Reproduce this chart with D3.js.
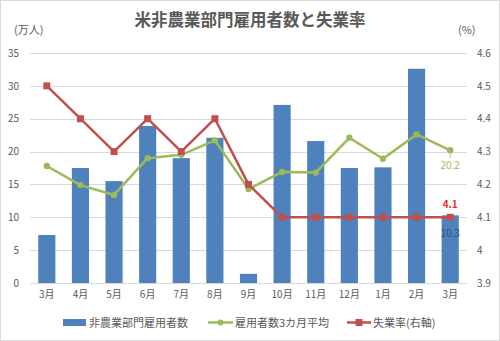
<!DOCTYPE html>
<html><head><meta charset="utf-8">
<script src="https://cdn.jsdelivr.net/npm/d3@7"></script>
<style>body{margin:0;background:#fff}svg{display:block}text{font-family:"Noto Sans CJK JP","Noto Sans",sans-serif}</style>
</head><body>
<script>
const categories = ["3月","4月","5月","6月","7月","8月","9月","10月","11月","12月","1月","2月","3月"];
const payrolls = [7.3,17.5,15.5,23.9,19.0,22.1,1.4,27.1,21.6,17.5,17.6,32.6,10.3];
const avg3m = [17.8,14.9,13.4,19.0,19.5,21.7,14.3,16.9,16.8,22.1,18.9,22.6,20.2];
const unemp = [4.5,4.4,4.3,4.4,4.3,4.4,4.2,4.1,4.1,4.1,4.1,4.1,4.1];
const leftTicks = [0,5,10,15,20,25,30,35];
const rightTicks = [3.9,4,4.1,4.2,4.3,4.4,4.5,4.6];
const seriesNames = ["非農業部門雇用者数","雇用者数3カ月平均","失業率(右軸)"];

const W=500,H=341;
const blue="#4f81bd", green="#9bbb59", red="#c0504d", gray="#595959";
const svg=d3.select("body").append("svg").attr("width",W).attr("height",H);
svg.append("rect").attr("x",0.5).attr("y",0.5).attr("width",W-1).attr("height",H-1).attr("fill","#fff").attr("stroke","#d9d9d9");

const x=d3.scaleBand().domain(d3.range(categories.length)).range([30,467]).paddingInner(0.49).paddingOuter(0.245);
const yL=d3.scaleLinear().domain([0,35]).range([283,53]);
const yR=d3.scaleLinear().domain([3.9,4.6]).range([283,53]);
const cx=i=>x(i)+x.bandwidth()/2;

// title
svg.append("text").attr("x",250).attr("y",26).attr("text-anchor","middle").attr("font-size",16.5).attr("font-weight","bold").attr("fill",gray).text("米非農業部門雇用者数と失業率");

// grid
svg.append("g").selectAll("line").data(leftTicks).join("line")
 .attr("x1",30).attr("x2",467).attr("y1",d=>Math.round(yL(d))+0.5).attr("y2",d=>Math.round(yL(d))+0.5)
 .attr("stroke","#d9d9d9").attr("stroke-width",1);

// left axis
const gL=svg.append("g").attr("transform","translate(19,0)").call(d3.axisLeft(yL).tickValues(leftTicks).tickSize(0).tickPadding(0));
gL.select(".domain").remove();
gL.selectAll("text").attr("fill",gray).attr("font-size",10).attr("font-family","Liberation Sans, sans-serif");
const gR=svg.append("g").attr("transform","translate(477,0)").call(d3.axisRight(yR).tickValues(rightTicks).tickFormat(d=>d3.format("")(+d.toFixed(1))).tickSize(0).tickPadding(0));
gR.select(".domain").remove();
gR.selectAll("text").attr("fill",gray).attr("font-size",10).attr("font-family","Liberation Sans, sans-serif");
// x axis
const gX=svg.append("g").attr("transform","translate(0,291)").call(d3.axisBottom(x).tickFormat(i=>categories[i]).tickSize(0).tickPadding(0));
gX.select(".domain").remove();
gX.selectAll("text").attr("fill",gray).attr("font-size",10);

svg.append("text").attr("x",14).attr("y",34).attr("font-size",11).attr("fill",gray).text("(万人)");
svg.append("text").attr("x",458).attr("y",34).attr("font-size",11).attr("fill",gray).text("(%)");

// bars
svg.append("g").selectAll("rect").data(payrolls).join("rect")
 .attr("x",(d,i)=>x(i)).attr("width",x.bandwidth()).attr("y",d=>yL(d)).attr("height",d=>yL(0)-yL(d)).attr("fill",blue);

// green line
svg.append("path").datum(avg3m).attr("fill","none").attr("stroke",green).attr("stroke-width",2.5).attr("stroke-linejoin","round")
 .attr("d",d3.line().x((d,i)=>cx(i)).y(d=>yL(d)));
svg.append("g").selectAll("circle").data(avg3m).join("circle").attr("cx",(d,i)=>cx(i)).attr("cy",d=>yL(d)).attr("r",3.2).attr("fill",green);

// red line
svg.append("path").datum(unemp).attr("fill","none").attr("stroke",red).attr("stroke-width",2.5).attr("stroke-linejoin","round")
 .attr("d",d3.line().x((d,i)=>cx(i)).y(d=>yR(d)));
svg.append("g").selectAll("rect").data(unemp).join("rect").attr("x",(d,i)=>cx(i)-3.5).attr("y",d=>yR(d)-3.5).attr("width",7).attr("height",7).attr("fill",red);

// data labels
const last=categories.length-1;
svg.append("line").attr("x1",cx(last)).attr("x2",cx(last)).attr("y1",yL(avg3m[last])+3).attr("y2",yL(avg3m[last])+8).attr("stroke","#bfbfbf");
svg.append("text").attr("x",cx(last)).attr("y",yL(avg3m[last])+19).attr("text-anchor","middle").attr("font-size",10).attr("fill",green).attr("font-family","Liberation Sans, sans-serif").text(avg3m[last].toFixed(1));
svg.append("text").attr("x",cx(last)).attr("y",yR(unemp[last])-9).attr("text-anchor","middle").attr("font-size",10).attr("font-weight","bold").attr("fill","#e03030").attr("font-family","Liberation Sans, sans-serif").text(unemp[last].toFixed(1));
svg.append("text").attr("x",cx(last)).attr("y",yL(payrolls[last])+22).attr("text-anchor","middle").attr("font-size",10).attr("fill","#2f4f7f").attr("font-family","Liberation Sans, sans-serif").text(payrolls[last].toFixed(1));

// legend
const lg=svg.append("g");
lg.append("rect").attr("x",63).attr("y",319).attr("width",23).attr("height",7).attr("fill",blue);
lg.append("text").attr("x",89).attr("y",327).attr("font-size",11).attr("fill",gray).text(seriesNames[0]);
lg.append("line").attr("x1",208).attr("x2",233).attr("y1",322.5).attr("y2",322.5).attr("stroke",green).attr("stroke-width",2.5);
lg.append("circle").attr("cx",220.5).attr("cy",322.5).attr("r",3).attr("fill",green);
lg.append("text").attr("x",235).attr("y",327).attr("font-size",11).attr("fill",gray).text(seriesNames[1]);
lg.append("line").attr("x1",347).attr("x2",371).attr("y1",322.5).attr("y2",322.5).attr("stroke",red).attr("stroke-width",2.5);
lg.append("rect").attr("x",355.5).attr("y",319).attr("width",7).attr("height",7).attr("fill",red);
lg.append("text").attr("x",373).attr("y",327).attr("font-size",11).attr("fill",gray).text(seriesNames[2]);
</script>
</body></html>
